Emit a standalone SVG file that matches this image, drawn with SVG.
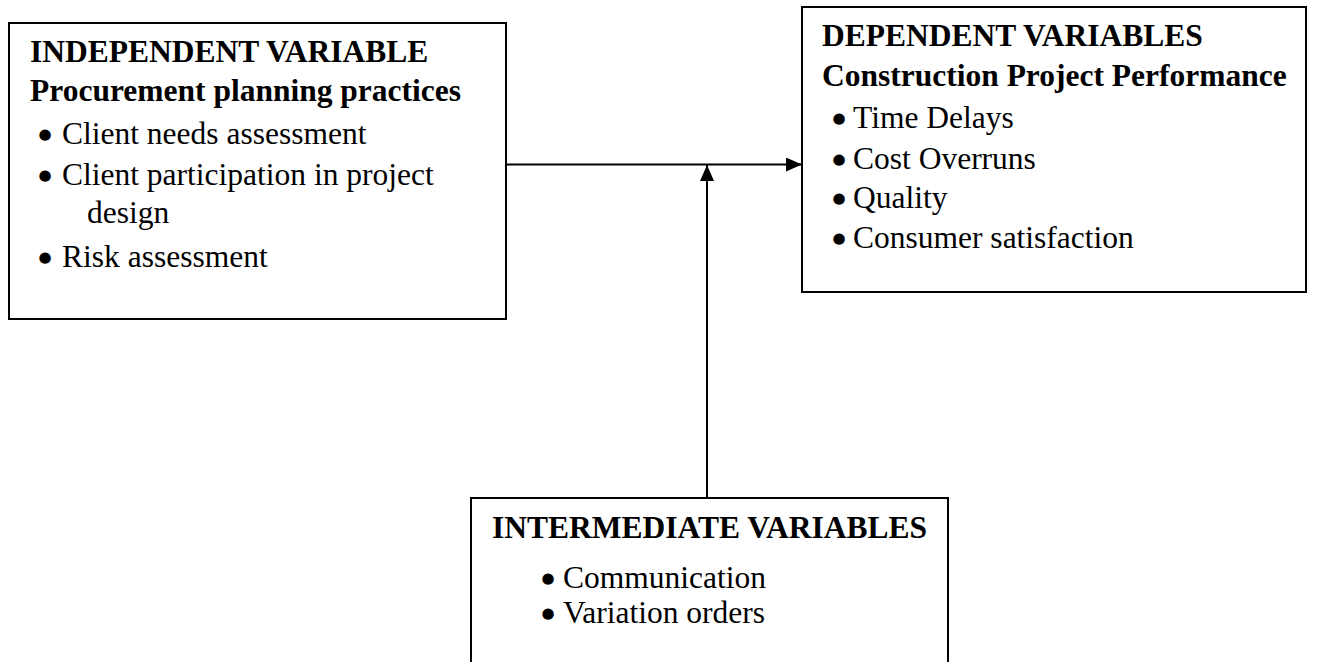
<svg xmlns="http://www.w3.org/2000/svg" width="1344" height="662" viewBox="0 0 1344 662">
<defs>
<style>
.box{fill:#fff;stroke:#000;stroke-width:2}
.h{font-family:"Liberation Serif","Times New Roman",serif;font-weight:bold;font-size:31.5px;fill:#000}
.t{font-family:"Liberation Serif","Times New Roman",serif;font-size:31.5px;fill:#000}
.b{font-family:"DejaVu Sans",sans-serif;font-size:15px;fill:#000;text-anchor:middle}
.conn{stroke:#000;stroke-width:2;fill:none}
</style>
<marker id="arr" markerUnits="userSpaceOnUse" markerWidth="17" markerHeight="14" refX="16" refY="7" orient="auto">
<path d="M0,0 L16,7 L0,14 Z" fill="#000"/>
</marker>
</defs>
<rect width="1344" height="662" fill="#fff"/>
<g id="connectors">
<line class="conn" x1="506" y1="164.5" x2="802" y2="164.5" marker-end="url(#arr)"/>
<line class="conn" x1="707" y1="498" x2="707" y2="165" marker-end="url(#arr)"/>
</g>
<g id="independent">
<rect class="box" x="9" y="23" width="497" height="296"/>
<text class="h" x="30" y="62">INDEPENDENT VARIABLE</text>
<text class="h" x="30" y="101">Procurement planning practices</text>
<text class="b" x="45" y="139">●</text><text class="t" x="62" y="144">Client needs assessment</text>
<text class="b" x="45" y="180">●</text><text class="t" x="62" y="185">Client participation in project</text>
<text class="t" x="87" y="223">design</text>
<text class="b" x="45" y="262">●</text><text class="t" x="62" y="267">Risk assessment</text>
</g>
<g id="dependent">
<rect class="box" x="802" y="7" width="504" height="285"/>
<text class="h" x="822" y="46">DEPENDENT VARIABLES</text>
<text class="h" x="822" y="86">Construction Project Performance</text>
<text class="b" x="839" y="123">●</text><text class="t" x="853" y="128">Time Delays</text>
<text class="b" x="839" y="164">●</text><text class="t" x="853" y="169">Cost Overruns</text>
<text class="b" x="839" y="203">●</text><text class="t" x="853" y="208">Quality</text>
<text class="b" x="839" y="243">●</text><text class="t" x="853" y="248">Consumer satisfaction</text>
</g>
<g id="intermediate">
<rect class="box" x="471" y="498" width="477" height="200"/>
<text class="h" x="492" y="538">INTERMEDIATE VARIABLES</text>
<text class="b" x="548" y="583">●</text><text class="t" x="563" y="588">Communication</text>
<text class="b" x="548" y="618">●</text><text class="t" x="563" y="623">Variation orders</text>
</g>
</svg>
